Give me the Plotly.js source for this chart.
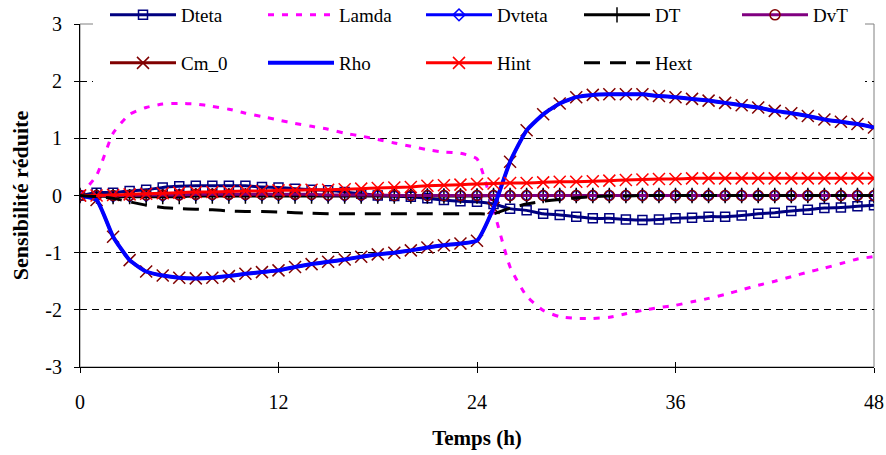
<!DOCTYPE html>
<html>
<head>
<meta charset="utf-8">
<script src="https://cdn.plot.ly/plotly-3.0.1.min.js"></script>
<style>html,body{margin:0;padding:0;background:#fff;}#chart{width:886px;height:455px;}</style>
</head>
<body>
<div id="chart"></div>
<script>
// Time (hours)
const hours = [0,1,2,3,4,5,6,7,8,9,10,11,12,13,14,15,16,17,18,19,20,21,22,23,24,25,26,27,28,29,30,31,32,33,34,35,36,37,38,39,40,41,42,43,44,45,46,47,48];

const dteta = [0,0.05,0.05,0.08,0.10,0.14,0.16,0.17,0.17,0.17,
  0.17,0.15,0.14,0.12,0.10,0.09,0.06,0.03,0.00,-0.01,
  -0.02,-0.05,-0.08,-0.10,-0.11,-0.15,-0.23,-0.26,-0.32,-0.34,
  -0.37,-0.40,-0.40,-0.42,-0.43,-0.42,-0.40,-0.39,-0.37,-0.37,
  -0.35,-0.32,-0.30,-0.27,-0.25,-0.22,-0.21,-0.19,-0.17];

const lamda = [0,0.35,1.09,1.42,1.54,1.60,1.61,1.60,1.56,1.51,
  1.44,1.38,1.32,1.26,1.21,1.16,1.09,1.04,0.98,0.92,
  0.86,0.80,0.76,0.74,0.64,-0.25,-1.25,-1.76,-2.01,-2.12,
  -2.15,-2.15,-2.13,-2.07,-2.01,-1.96,-1.92,-1.86,-1.80,-1.73,
  -1.65,-1.57,-1.50,-1.42,-1.34,-1.27,-1.19,-1.11,-1.07];

const dvteta = [0,0,-0.01,-0.01,0,0,0.01,0.01,0.01,0.01,
  0.01,0.01,0.01,0.01,0.01,0,0,0,0,0,
  0,0,0,0,0,0,0,0,0,0,
  0,0,0,0,0,0,0,0,0,0,
  0,0,0,0,0,0,0,0,0];

const dt = [0,-0.01,-0.02,-0.02,-0.02,-0.02,-0.02,-0.01,-0.01,-0.01,
  -0.01,-0.01,-0.01,-0.01,-0.01,-0.01,-0.01,-0.01,-0.01,-0.01,
  -0.01,-0.01,-0.01,-0.01,-0.01,0,0,0,0,0,
  0,0,0,0,0,0,0,0,0,0,
  0,0,0,0,0,0,0,0,0];

const dvt = [0,0,0,0,0.01,0.01,0.01,0.02,0.02,0.02,
  0.02,0.02,0.02,0.02,0.02,0.01,0.01,0.01,0.01,0,
  0,0,0,0,0,0,0,0,0,0,
  0,0,0,0,0,0,0,0,0,0,
  0,0,0,0,0,0,0,0,0];

const cm0 = [0,-0.08,-0.72,-1.13,-1.33,-1.40,-1.44,-1.45,-1.44,-1.41,
  -1.37,-1.34,-1.31,-1.25,-1.20,-1.16,-1.12,-1.07,-1.03,-1.00,
  -0.96,-0.91,-0.87,-0.84,-0.79,-0.22,0.59,1.14,1.42,1.61,
  1.72,1.76,1.77,1.77,1.77,1.74,1.72,1.69,1.66,1.62,
  1.58,1.54,1.48,1.44,1.39,1.33,1.29,1.25,1.19];

const rho = [0,-0.08,-0.72,-1.13,-1.33,-1.40,-1.44,-1.45,-1.44,-1.41,
  -1.37,-1.34,-1.31,-1.25,-1.20,-1.16,-1.12,-1.07,-1.03,-1.00,
  -0.96,-0.91,-0.87,-0.84,-0.79,-0.22,0.59,1.14,1.42,1.61,
  1.72,1.76,1.77,1.77,1.77,1.74,1.72,1.69,1.66,1.62,
  1.58,1.54,1.48,1.44,1.39,1.33,1.29,1.25,1.19];

const hint = [0,0,0.01,0.02,0.03,0.04,0.05,0.06,0.06,0.07,
  0.08,0.08,0.09,0.09,0.10,0.10,0.11,0.12,0.13,0.14,
  0.15,0.17,0.18,0.19,0.20,0.21,0.22,0.22,0.23,0.24,
  0.24,0.25,0.26,0.27,0.28,0.29,0.29,0.30,0.30,0.30,
  0.30,0.30,0.30,0.30,0.30,0.30,0.30,0.30,0.30];

const hext = [0,-0.02,-0.05,-0.11,-0.17,-0.21,-0.23,-0.24,-0.25,-0.27,
  -0.28,-0.28,-0.29,-0.30,-0.31,-0.32,-0.32,-0.32,-0.32,-0.32,
  -0.32,-0.32,-0.32,-0.32,-0.32,-0.32,-0.22,-0.15,-0.10,-0.07,
  -0.04,-0.02,-0.01,-0.01,0,0,0,0,0,0,
  0,0,0,0,0,0,0,0,0];

const xTicks = [0,12,24,36,48];
const yTicks = [-3,-2,-1,0,1,2,3];

const sm = {shape:'spline', smoothing:0.5};
const FONT = '"Liberation Serif", "Times New Roman", Times, serif';

const traces = [
  {name:'Dteta', x:hours, y:dteta, mode:'lines+markers', legend:'legend', legendrank:1,
   line:Object.assign({color:'#000080', width:3}, sm),
   marker:{symbol:'square-open', size:9, color:'#000080', line:{width:1.5}}},
  {name:'Lamda', x:hours, y:lamda, mode:'lines', legend:'legend', legendrank:2,
   line:Object.assign({color:'#FF00FF', width:3, dash:'6px,8px'}, sm)},
  {name:'Dvteta', x:hours, y:dvteta, mode:'lines+markers', legend:'legend', legendrank:3,
   line:Object.assign({color:'#0000FF', width:3}, sm),
   marker:{symbol:'diamond-open', size:9, color:'#0000FF', line:{width:1.5}}},
  {name:'DT', x:hours, y:dt, mode:'lines+markers', legend:'legend', legendrank:4,
   line:Object.assign({color:'#000000', width:3}, sm),
   marker:{symbol:'cross-thin', size:11, color:'#000000', line:{width:1.5, color:'#000000'}}},
  {name:'DvT', x:hours, y:dvt, mode:'lines+markers', legend:'legend', legendrank:5,
   line:Object.assign({color:'#800080', width:3}, sm),
   marker:{symbol:'circle-open', size:10, color:'#800000', line:{width:1.5}}},
  {name:'Cm_0', x:hours, y:cm0, mode:'lines+markers', legend:'legend2', legendrank:6,
   line:Object.assign({color:'#800000', width:3}, sm),
   marker:{symbol:'x-thin', size:12, color:'#800000', line:{width:1.5, color:'#800000'}}},
  {name:'Rho', x:hours, y:rho, mode:'lines', legend:'legend2', legendrank:7,
   line:Object.assign({color:'#0000FF', width:4}, sm)},
  {name:'Hint', x:hours, y:hint, mode:'lines+markers', legend:'legend2', legendrank:8,
   line:Object.assign({color:'#FF0000', width:3}, sm),
   marker:{symbol:'x-thin', size:12, color:'#FF0000', line:{width:1.5, color:'#FF0000'}}},
  {name:'Hext', x:hours, y:hext, mode:'lines', legend:'legend2', legendrank:9,
   line:Object.assign({color:'#000000', width:3, dash:'16px,10px'}, sm)},
  // carrier for the inner half of the crossing tick marks (no visible data)
  {x:[null], y:[null], xaxis:'x2', yaxis:'y2', mode:'markers', showlegend:false, hoverinfo:'skip'}
];

const legendCommon = {
  orientation:'h', bgcolor:'rgba(0,0,0,0)', borderwidth:0,
  font:{family:FONT, size:19, color:'#000'},
  entrywidth:77, entrywidthmode:'pixels', itemwidth:66,
  xanchor:'left', yanchor:'middle', traceorder:'normal', itemclick:false
};

const layout = {
  width:886, height:455,
  margin:{l:80, r:12, t:24, b:88, autoexpand:false},
  paper_bgcolor:'#fff', plot_bgcolor:'#fff',
  font:{family:FONT, size:19, color:'#000'},
  showlegend:true,
  legend:Object.assign({}, legendCommon, {x:(105-80)/794, y:1.0 + (24-15)/343}),
  legend2:Object.assign({}, legendCommon, {x:(105-80)/794, y:1.0 - (63-24)/343}),
  xaxis:{range:[0,48], tickvals:xTicks, ticktext:xTicks.map(String),
    showgrid:false, zeroline:false, showline:true, linecolor:'#000', linewidth:1,
    ticks:'outside', ticklen:5, tickcolor:'#000', ticklabelstandoff:12,
    tickfont:{family:FONT, size:20, color:'#000'},
    title:{text:'<b>Temps (h)</b>', font:{family:FONT, size:21, color:'#000'}, standoff:18}},
  yaxis:{range:[-3,3], tickvals:yTicks, ticktext:yTicks.map(String),
    showgrid:true, gridcolor:'#000', gridwidth:1, griddash:'7px,5px',
    zeroline:false, showline:true, linecolor:'#000', linewidth:1,
    ticks:'outside', ticklen:5, tickcolor:'#000', ticklabelstandoff:8,
    tickfont:{family:FONT, size:20, color:'#000'},
    title:{text:'<b>Sensibilité réduite</b>', font:{family:FONT, size:22, color:'#000'}, standoff:10}},
  xaxis2:{range:[0,48], overlaying:'x', anchor:'y', side:'bottom', tickvals:xTicks,
    showticklabels:false, showgrid:false, zeroline:false, showline:false,
    ticks:'inside', ticklen:5, tickcolor:'#000'},
  yaxis2:{range:[-3,3], overlaying:'y', anchor:'x', side:'left', tickvals:yTicks,
    showticklabels:false, showgrid:false, zeroline:false, showline:false,
    ticks:'inside', ticklen:5, tickcolor:'#000'},
  shapes:[
    {type:'rect', xref:'paper', yref:'paper', x0:0, x1:1, y0:0, y1:1,
     line:{color:'#808080', width:1}, fillcolor:'rgba(0,0,0,0)', layer:'below'},
    {type:'rect', xref:'paper', yref:'paper', x0:(93-80)/794, x1:(865-80)/794,
     y0:(367-82)/343, y1:(367+2)/343, line:{width:0}, fillcolor:'#fff', layer:'above'}
  ]
};

Plotly.newPlot('chart', traces, layout, {staticPlot:true, displayModeBar:false});
</script>
</body>
</html>
